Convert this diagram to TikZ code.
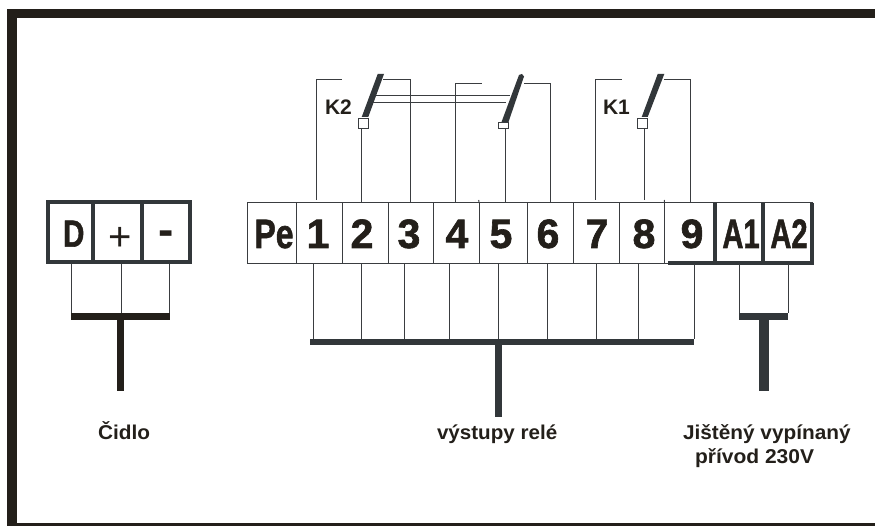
\documentclass[tikz,border=0pt]{standalone}
\usepackage{fontspec}
\setmainfont{Liberation Sans}
\newfontfamily\termf[UprightFont={* Bold},FakeBold=1.5]{Liberation Sans}
\definecolor{ink}{HTML}{231F1A}
\definecolor{slate}{HTML}{32373A}
\definecolor{wirec}{HTML}{3A3D40}
\newcommand{\fsz}[1]{\fontsize{#1}{#1}\selectfont}
\newcommand{\sx}[2]{\scalebox{#1}[1]{#2}}
\tikzset{
  outer sep=0pt,
  wire/.style={draw=wirec,line width=1pt},
  heavy/.style={draw=slate,line width=3.4pt},
  cell/.style={draw=wirec,line width=1pt,rectangle,inner sep=0pt,anchor=north west,minimum height=61pt},
  sencell/.style={draw=slate,line width=3.6pt,rectangle,inner sep=0pt,anchor=north west,minimum height=60.4pt},
  termtxt/.style={inner sep=0pt,anchor=base,text=ink,font=\fsz{41}\termf},
  barblack/.style={fill=ink,inner sep=0pt,rectangle},
  barslate/.style={fill=slate,inner sep=0pt,rectangle},
  contact/.style={fill=slate,draw=none},
  tip/.style={draw=wirec,fill=white,line width=1pt,rectangle,inner sep=0pt,anchor=north},
  lbl/.style={font=\fsz{20}\bfseries,text=ink,inner sep=0pt,anchor=base west},
  frame/.style={fill=ink,inner sep=0pt,rectangle,anchor=north west}
}
\begin{document}
\begin{tikzpicture}[x=1pt,y=-1pt]
\useasboundingbox (0,0) rectangle (875,526);
% frame
\node[frame,minimum width=868pt,minimum height=9.5pt] (ftop) at (7,9) {};
\node[frame,minimum width=9.5pt,minimum height=517pt] (fleft) at (7,9) {};
\node[frame,minimum width=868pt,minimum height=3pt] (fbot) at (7,523) {};
% sensor terminals
\node[sencell,minimum width=45.2pt] (sD) at (47.8,201.8) {};
\node[sencell,minimum width=49pt] (sP) at (93,201.8) {};
\node[sencell,minimum width=48.2pt] (sM) at (142,201.8) {};
\node[termtxt,font=\fsz{38}\termf] (sDt) at (73.7,246.7) {\sx{.78}{D}};
\node[termtxt,font=\fsz{40}] (sPt) at (120.5,251) {+};
\node[termtxt,font=\fsz{46}\bfseries] (sMt) at (166.5,246) {-};
% sensor bus
\node[barblack,minimum width=99pt,minimum height=7pt] (sbar) at (120.5,316.5) {};
\node[barblack,minimum width=7pt,minimum height=71pt] (sstem) at (120.5,355) {};
\foreach \n/\x in {a/71.5,b/121,c/169.5}{
  \coordinate (sw\n) at (\x,264);
  \draw[wire] (sw\n) -- (sw\n |- sbar.north);
}
% relay terminals
\node[cell,minimum width=49pt] (tPe) at (247.5,203) {};
\node[cell,minimum width=45.5pt] (t1) at (296.5,203) {};
\node[cell,minimum width=46pt] (t2) at (342,203) {};
\node[cell,minimum width=45.5pt] (t3) at (388,203) {};
\node[cell,minimum width=45.5pt] (t4) at (433.5,203) {};
\node[cell,minimum width=48pt] (t5) at (479,203) {};
\node[cell,minimum width=46pt] (t6) at (527,203) {};
\node[cell,minimum width=46pt] (t7) at (573,203) {};
\node[cell,minimum width=45.5pt] (t8) at (619,203) {};
\node[cell,minimum width=50.5pt] (t9) at (664.5,203) {};
\node[cell,minimum width=48pt] (tA1) at (715,203) {};
\node[cell,minimum width=49pt] (tA2) at (763,203) {};
\foreach \n/\x/\s in {Pe/274/{\sx{.78}{Pe}},1/318/1,2/362/2,3/409/3,4/457/4,5/501/5,6/548/6,7/597/7,8/644/8,9/692/9,A1/741/{\sx{.71}{A1}},A2/789/{\sx{.71}{A2}}}{
  \node[termtxt] (x\n) at (\x,248) {\s};
}
% heavy edges of the last terminals
\coordinate (h9) at (668,263);
\coordinate (hc) at (813.7,263);
\draw[heavy] (h9) -- (hc);
\draw[heavy] (tA1.north west) -- (tA1.south west);
\draw[heavy] (tA2.north west) -- (tA2.south west);
\draw[heavy] (tA2.north east) -- (tA2.south east);
% output bus
\node[barslate,minimum width=384pt,minimum height=6pt] (obar) at (502,342) {};
\node[barslate,minimum width=7pt,minimum height=72pt] (ostem) at (498.5,381) {};
\foreach \n/\x in {a/313,b/361.5,c/404,d/449.5,e/498,f/547,g/596,h/638,i/694}{
  \coordinate (ow\n) at (\x,264);
  \draw[wire] (ow\n) -- (ow\n |- obar.north);
}
% supply bus
\node[barslate,minimum width=49.5pt,minimum height=6.5pt] (pbar) at (763.5,316.5) {};
\node[barslate,minimum width=10pt,minimum height=72pt] (pstem) at (764,355) {};
\foreach \n/\x in {a/739.5,b/788}{
  \coordinate (pw\n) at (\x,264);
  \draw[wire] (pw\n) -- (pw\n |- pbar.north);
}
% relay K2 first contact
\coordinate (k2lb) at (316,200);\coordinate (k2lt) at (316,80);\coordinate (k2le) at (342,80);
\coordinate (k2re) at (383,80);\coordinate (k2rt) at (410,80);\coordinate (k2rb) at (410,203);
\draw[wire] (k2lb) -- (k2lt) -- (k2le);
\draw[wire] (k2re) -- (k2rt) -- (k2rb);
\node[tip,minimum width=9.5pt,minimum height=10.5pt] (b1) at (363.3,118.3) {};
\coordinate (b1w) at (361.5,128.8);\coordinate (b1e) at (361.5,203);
\draw[wire] (b1w) -- (b1e);
\fill[contact] (377.7,74) -- (384,74) -- (368.3,117) -- (361.7,117) -- cycle;
% relay K2 second contact
\coordinate (m1) at (455.3,203);\coordinate (m2) at (455.3,83.5);\coordinate (m3) at (482,83.5);
\coordinate (m4) at (524,83.5);\coordinate (m5) at (550.3,83.5);\coordinate (m6) at (550.3,203);
\draw[wire] (m1) -- (m2) -- (m3);
\draw[wire] (m4) -- (m5) -- (m6);
\node[tip,minimum width=10pt,minimum height=6.5pt] (b2) at (503,122.5) {};
\coordinate (b2w) at (505,129);\coordinate (b2e) at (505,203);
\draw[wire] (b2w) -- (b2e);
% ganging lines
\coordinate (g1a) at (376,96);\coordinate (g1b) at (510,96);
\coordinate (g2a) at (373,102.5);\coordinate (g2b) at (506,102.5);
\draw[wire] (g1a) -- (g1b);
\draw[wire] (g2a) -- (g2b);
\fill[contact] (519,75) -- (522,74) -- (524,76.5) -- (508.5,122) -- (501.5,122) -- cycle;
% relay K1
\coordinate (k1lb) at (595.5,200);\coordinate (k1lt) at (595.5,80);\coordinate (k1le) at (622,80);
\coordinate (k1re) at (664,80);\coordinate (k1rt) at (690,80);\coordinate (k1rb) at (690,203);
\draw[wire] (k1lb) -- (k1lt) -- (k1le);
\draw[wire] (k1re) -- (k1rt) -- (k1rb);
\node[tip,minimum width=9.8pt,minimum height=10.5pt] (b3) at (642.6,118.3) {};
\coordinate (b3w) at (644.3,128.8);\coordinate (b3e) at (644.3,200);
\draw[wire] (b3w) -- (b3e);
\fill[contact] (657.7,74) -- (664.3,74) -- (647.7,117) -- (641.7,117) -- cycle;
% divider ticks above the terminal strip
\coordinate (tk1) at (478.7,200);\coordinate (tk2) at (664.3,200);
\draw[wire] (tk1) -- (t5.north west);
\draw[wire] (tk2) -- (t9.north west);
% labels
\node[lbl,font=\fsz{21}\bfseries] (lK2) at (325,114.5) {K2};
\node[lbl,font=\fsz{21}\bfseries] (lK1) at (603,115) {K1};
\node[lbl] (lC) at (98,439) {\sx{1.04}{Čidlo}};
\node[lbl] (lV) at (437,439) {\sx{1.03}{výstupy relé}};
\node[lbl] (lJ) at (683,439) {\sx{1.04}{Jištěný vypínaný}};
\node[lbl] (lP) at (695,463) {\sx{1.05}{přívod 230V}};
\end{tikzpicture}
\end{document}
